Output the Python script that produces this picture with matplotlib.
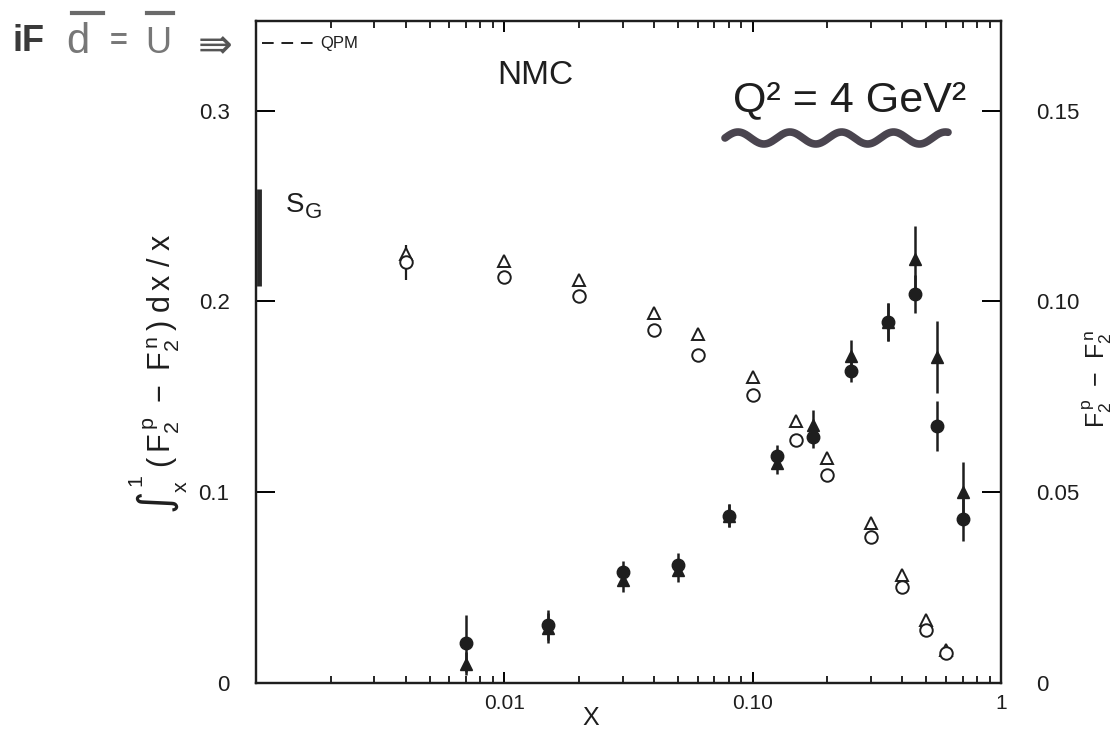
import numpy as np
import matplotlib
matplotlib.use("Agg")
import matplotlib.pyplot as plt
from matplotlib.lines import Line2D
from matplotlib.ticker import FixedLocator, LogLocator, NullFormatter

plt.rcParams['font.family'] = ['Liberation Sans', 'DejaVu Sans']
plt.rcParams['mathtext.default'] = 'regular'

# ---------------- data ----------------
# integral  int_x^1 (F2p - F2n) dx/x  (left axis), open symbols
x_int = [0.004, 0.01, 0.02, 0.04, 0.06, 0.1, 0.15, 0.2, 0.3, 0.4, 0.5, 0.6]
int_circle = [0.2205, 0.2126, 0.2026, 0.185, 0.172, 0.151, 0.1276, 0.109, 0.0766, 0.0504, 0.0278, 0.0157]
int_circle_err = [0.009, 0, 0, 0, 0, 0, 0, 0, 0, 0, 0, 0]
int_triangle = [0.2247, 0.221, 0.2115, 0.194, 0.1827, 0.1606, 0.1375, 0.118, 0.084, 0.0567, 0.033, 0.0173]

# F2p - F2n (right axis), filled symbols
x_diff = [0.007, 0.015, 0.03, 0.05, 0.08, 0.125, 0.175, 0.25, 0.35, 0.45, 0.55, 0.7]
diff_circle = [0.0104, 0.0152, 0.029, 0.031, 0.0438, 0.0594, 0.0646, 0.0819, 0.0947, 0.102, 0.0673, 0.0429]
diff_circle_err = [0.0075, 0.004, 0.003, 0.003, 0.003, 0.003, 0.003, 0.003, 0.005, 0.005, 0.0066, 0.0058]
diff_triangle = [0.0051, 0.0144, 0.0269, 0.0296, 0.0438, 0.0577, 0.0675, 0.0858, 0.0947, 0.1112, 0.0854, 0.05]
diff_triangle_err = [0.003, 0.004, 0.003, 0.003, 0.003, 0.003, 0.004, 0.004, 0.005, 0.0087, 0.0095, 0.008]

qpm_value = 0.3354
sg_range = [0.208, 0.259]

left_ticks = [0, 0.1, 0.2, 0.3]
left_ticklabels = ["0", "0.1", "0.2", "0.3"]
right_ticks = [0, 0.05, 0.10, 0.15]
right_ticklabels = ["0", "0.05", "0.10", "0.15"]
x_ticks = [0.01, 0.1, 1]
x_ticklabels = ["0.01", "0.10", "1"]

# ---------------- figure ----------------
W, H = 1116, 729
fig = plt.figure(figsize=(W / 100, H / 100), dpi=100)
L, R, B, T = 256, 1001, 683, 21
ax = fig.add_axes([L / W, 1 - B / H, (R - L) / W, (B - T) / H])
ax2 = ax.twinx()

ax.set_xscale('log')
ax.set_xlim(0.001, 1)
ax.set_ylim(0, 0.347)
ax2.set_ylim(0, 0.1735)

ink = '#1e1e1e'
for a in (ax, ax2):
    for s in a.spines.values():
        s.set_linewidth(1.6)
        s.set_color(ink)

# open symbols (left axis)
ax.errorbar(x_int, int_circle, yerr=int_circle_err, fmt='o', ms=9, mfc='white',
            mec=ink, mew=1.4, ecolor=ink, elinewidth=1.6, capsize=0, zorder=3)
ax.plot(x_int, int_triangle, linestyle='none', marker='^', ms=8.5, mfc='white',
        mec=ink, mew=1.4, zorder=3)

# filled symbols (right axis)
ax2.errorbar(x_diff, diff_triangle, yerr=diff_triangle_err, fmt='^', ms=9, mfc=ink,
             mec=ink, ecolor=ink, elinewidth=1.8, capsize=0, zorder=3)
ax2.errorbar(x_diff, diff_circle, yerr=diff_circle_err, fmt='o', ms=9, mfc=ink,
             mec=ink, ecolor=ink, elinewidth=1.8, capsize=0, zorder=4)

# ticks
ax.xaxis.set_major_locator(FixedLocator([0.001] + x_ticks))
ax.set_xticklabels([""] + x_ticklabels)
ax.xaxis.set_minor_locator(LogLocator(base=10, subs=np.arange(2, 10)))
ax.xaxis.set_minor_formatter(NullFormatter())
ax.tick_params(axis='x', which='major', direction='in', length=8, width=1.4,
               top=True, labelsize=15, pad=8, labelcolor=ink)
ax.tick_params(axis='x', which='minor', direction='in', length=5, width=1.2, top=True)

ax.set_yticks(left_ticks)
ax.set_yticklabels(left_ticklabels)
ax.tick_params(axis='y', direction='in', length=14, width=1.4, labelsize=16, pad=19,
               labelcolor=ink)
ax2.set_yticks(right_ticks)
ax2.set_yticklabels(right_ticklabels)
ax2.tick_params(axis='y', direction='in', length=14, width=1.4, labelsize=16, pad=25,
                labelcolor=ink)

# S_G bar and text
ax.plot([0.004, 0.004], sg_range, transform=ax.get_yaxis_transform(), color='#2a2a2a',
        lw=3.5, solid_capstyle='butt', zorder=5, clip_on=False)
fig.text(286 / W, 1 - 212 / H, "S", fontsize=20, color=ink, va='baseline')
fig.text(305 / W, 1 - 218 / H, "G", fontsize=16, color=ink, va='baseline')

# QPM dashed mark
ax.plot([0.008, 0.083], [qpm_value, qpm_value], transform=ax.get_yaxis_transform(),
        color=ink, lw=1.4, dashes=(6, 4), clip_on=False)
ax.text(0.086, qpm_value, "QPM", transform=ax.get_yaxis_transform(), fontsize=12,
        va='center', ha='left', color=ink)

# in-plot texts
fig.text(535 / W, 1 - 76 / H, "NMC", fontsize=24, ha='center', va='center', color=ink)
fig.text(733 / W, 1 - 100 / H, "Q² = 4 GeV²", fontsize=31, ha='left', va='center', color=ink)

# wavy underline (hand drawn)
t = np.linspace(0, 1, 400)
wx = 725 + 223 * t
wy = 138 + 6 * np.sin(2 * np.pi * 4.3 * t + np.pi)
fig.add_artist(Line2D(wx / W, 1 - wy / H, transform=fig.transFigure, color='#4a454f',
                      lw=5.5, solid_capstyle='round'))

# axis labels
fig.text(591 / W, 1 - 718 / H, "X", fontsize=18, ha='center', va='center', color=ink)
fig.text(158 / W, 1 - 374 / H,
         r"$\int_x^{1}\;(\,F_2^{\,p}\;-\;F_2^{\,n}\,)\;d\,x\;/\;x$", fontsize=22,
         rotation=90, ha='center', va='center', color=ink)
fig.text(1097 / W, 1 - 379 / H, r"$F_2^{\,p}\ -\ F_2^{\,n}$", fontsize=18,
         rotation=90, ha='center', va='center', color=ink)

# handwritten note
fig.text(12 / W, 1 - 51 / H, "iF", fontsize=26, color='#3a3a3a', va='baseline',
         fontweight='bold')
fig.text(66 / W, 1 - 53 / H, "d", fontsize=30, color='#777777', va='baseline')
fig.text(110 / W, 1 - 50 / H, "=", fontsize=22, color='#777777', va='baseline',
         fontweight='bold')
fig.text(145 / W, 1 - 53 / H, "U", fontsize=26, color='#777777', va='baseline')
for x0, x1 in [(72, 103), (147, 173)]:
    fig.add_artist(Line2D([x0 / W, x1 / W], [1 - 13 / H, 1 - 13 / H], transform=fig.transFigure,
                          color='#6a6a6a', lw=3))
fig.text(198 / W, 1 - 46 / H, "⇛", fontsize=30, color='#555555', va='center',
         family=['DejaVu Sans'])

fig.savefig("out.png", dpi=100)
